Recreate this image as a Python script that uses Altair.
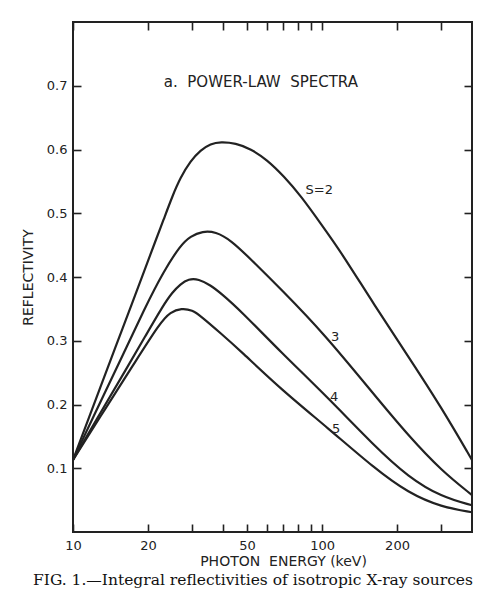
import altair as alt
import pandas as pd

# ---- data (photon energy keV, reflectivity) ----
s2_energy = [10, 11.18, 12.85, 14.77, 16.98, 19.51, 21.41, 23.06, 25.07, 27.01, 29.63, 32.52, 35.68,
             39.14, 45.0, 51.72, 60.0, 70.28, 82.3, 99.1, 119.3, 162.1, 222.3, 301.9, 400]
s2_refl = [0.113, 0.163, 0.226, 0.289, 0.351, 0.414, 0.456, 0.489, 0.527, 0.556, 0.582, 0.599, 0.609,
           0.612, 0.610, 0.601, 0.584, 0.558, 0.527, 0.483, 0.439, 0.356, 0.275, 0.195, 0.113]

s3_energy = [10, 12.27, 15.19, 19.51, 23.06, 27.01, 29.63, 33.13, 37.38, 42.96, 51.72, 68.35,
             101.9, 162.1, 222.3, 301.9, 400]
s3_refl = [0.113, 0.187, 0.262, 0.353, 0.408, 0.450, 0.464, 0.472, 0.471, 0.458, 0.428, 0.381,
           0.311, 0.215, 0.151, 0.096, 0.058]

s4_energy = [10, 12.85, 16.21, 19.51, 23.06, 25.07, 27.01, 29.09, 31.92, 35.68, 39.14, 47.13,
             68.35, 104.8, 162.1, 222.3, 301.9, 400]
s4_refl = [0.113, 0.186, 0.253, 0.307, 0.356, 0.376, 0.389, 0.397, 0.397, 0.387, 0.375, 0.347,
           0.282, 0.212, 0.135, 0.086, 0.055, 0.042]

s5_energy = [10, 13.46, 17.46, 22.43, 24.61, 27.26, 30.19, 32.52, 39.14, 47.13, 68.35, 105.7,
             162.1, 222.3, 301.9, 400]
s5_refl = [0.113, 0.193, 0.262, 0.329, 0.345, 0.351, 0.348, 0.339, 0.312, 0.284, 0.224, 0.163,
           0.100, 0.061, 0.039, 0.031]

curve_labels = ["S=2", "3", "4", "5"]
label_energy = [97.4, 112.8, 111.7, 114.0]
label_refl = [0.536, 0.306, 0.212, 0.162]

NB = "\u00a0"
panel_title = ["a." + NB + " POWER-LAW" + NB + " SPECTRA"]
panel_title_energy = [56.8]
panel_title_refl = [0.706]

x_tick_values = [10, 20, 30, 40, 50, 60, 70, 80, 90, 100, 200, 300]
x_label_values = [10, 20, 50, 100, 200]
y_tick_values = [0.1, 0.2, 0.3, 0.4, 0.5, 0.6, 0.7]

x_title = "PHOTON" + NB + " ENERGY (keV)"
y_title = "REFLECTIVITY"
caption = "FIG. 1.\u2014Integral reflectivities of isotropic X-ray sources"

# ---- build tables ----
rows = []
for name, es, rs in [("2", s2_energy, s2_refl), ("3", s3_energy, s3_refl),
                     ("4", s4_energy, s4_refl), ("5", s5_energy, s5_refl)]:
    for e, r in zip(es, rs):
        rows.append({"series": name, "energy": e, "refl": r})
df = pd.DataFrame(rows)
lab_df = pd.DataFrame({"text": curve_labels, "energy": label_energy, "refl": label_refl})
title_df = pd.DataFrame({"text": panel_title, "energy": panel_title_energy, "refl": panel_title_refl})

INK = "#222222"
FONT = "DejaVu Sans"

xscale = alt.Scale(type="log", domain=[10, 400], nice=False)
yscale = alt.Scale(domain=[0, 0.8], nice=False, zero=False)

label_list = "[" + ",".join(str(v) for v in x_label_values) + "]"

lines = alt.Chart(df).mark_line(color=INK, strokeWidth=2.2, interpolate="basis").encode(
    x=alt.X("energy:Q", scale=xscale, axis=alt.Axis(
        orient="bottom", values=x_tick_values, domain=False, grid=False,
        tickSize=8, offset=-8, tickColor=INK, tickWidth=1.6,
        labelExpr=f"indexof({label_list}, datum.value) >= 0 ? format(datum.value, 'd') : ''",
        labelFont=FONT, labelFontSize=13, labelColor=INK, labelPadding=7, labelOverlap=False,
        labelFlush=False,
        title=x_title, titleFont=FONT, titleFontSize=14, titleFontWeight="normal",
        titleColor=INK, titlePadding=2, titleX=210)),
    y=alt.Y("refl:Q", scale=yscale, axis=alt.Axis(
        orient="left", values=y_tick_values, format=".1f", domain=False, grid=False,
        tickSize=8, offset=-8, tickColor=INK, tickWidth=1.6,
        labelFont=FONT, labelFontSize=13, labelColor=INK, labelPadding=6, labelFlush=False,
        title=y_title, titleFont=FONT, titleFontSize=14, titleFontWeight="normal",
        titleColor=INK, titlePadding=11)),
    detail="series:N",
)

labels = alt.Chart(lab_df).mark_text(font=FONT, fontSize=13, color=INK, align="center", baseline="middle").encode(
    x=alt.X("energy:Q", scale=xscale, axis=alt.Axis(
        orient="top", values=x_tick_values, domain=False, grid=False, labels=False,
        tickSize=8, offset=-8, tickColor=INK, tickWidth=1.6, title=None)),
    y=alt.Y("refl:Q", scale=yscale, axis=alt.Axis(
        orient="right", values=y_tick_values, domain=False, grid=False, labels=False,
        tickSize=8, offset=-8, tickColor=INK, tickWidth=1.6, title=None)),
    text="text:N",
)

ptitle = alt.Chart(title_df).mark_text(font=FONT, fontSize=15, color=INK, align="center", baseline="middle").encode(
    x=alt.X("energy:Q", scale=xscale, axis=None),
    y=alt.Y("refl:Q", scale=yscale, axis=None),
    text="text:N",
)

chart = alt.layer(lines, labels, ptitle).resolve_axis(
    x="independent", y="independent"
).properties(
    width=399, height=510,
    autosize="none",
    padding={"left": 65, "top": 14, "right": 8, "bottom": 60},
    title=alt.TitleParams(caption, orient="bottom", anchor="start", frame="group",
                          font="DejaVu Serif", fontSize=15.5, fontWeight="normal",
                          color="#111111", dx=-40, offset=5),
).configure(background="white").configure_view(stroke=INK, strokeWidth=2)

chart.save("out.html", embed_options={"renderer": "svg", "actions": False})
